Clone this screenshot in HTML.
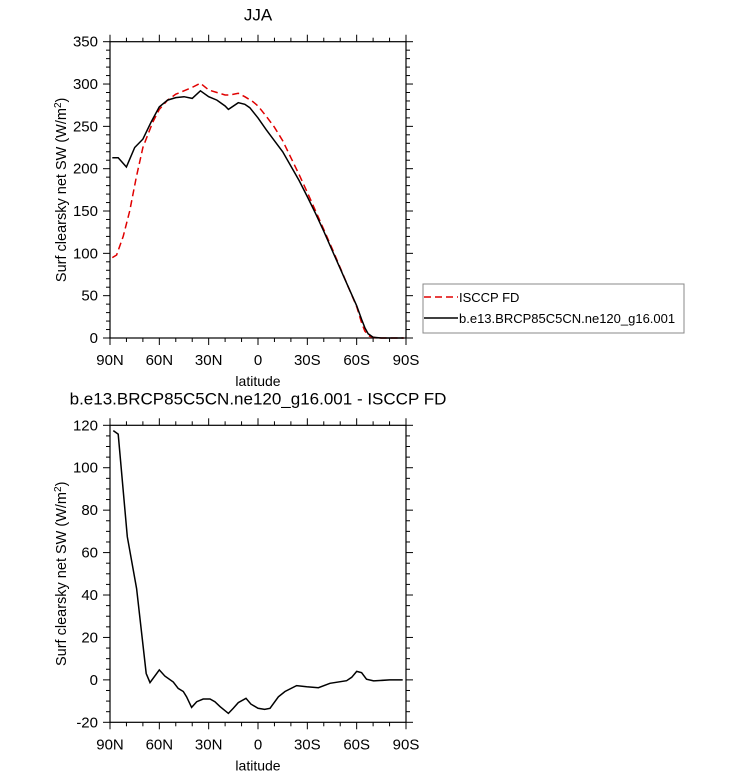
<!DOCTYPE html>
<html><head><meta charset="utf-8"><style>
body{margin:0;background:#fff;}
svg{display:block;font-family:"Liberation Sans",sans-serif;}
</style></head><body>
<svg id="chart" width="733" height="776" viewBox="0 0 733 776"></svg>
<script>
// Top panel data
const topBlackLat=[88.6,85,80,75,70,65,60,55,50,45,40,35,30,25,20,18,12,8,5,0,-5,-10,-15,-20,-25,-30,-35,-40,-45,-50,-55,-60,-63,-65,-67,-70,-75,-88.6];
const topBlackVal=[213,213,202,225,235,255,273,281,284,285,283,292,285,281,274,270,278,276,272,260,246,233,220,203,186,167,147,126,104,82,60,38,22,12,5,1,0,0];
const topRedLat=[88.6,86,82,78,74,70,67,64,60,55,50,45,40,35,30,25,20,17,12,8,3,0,-5,-10,-15,-20,-25,-30,-35,-40,-45,-50,-55,-60,-63,-65,-68,-72,-88.6];
const topRedVal=[95,98,120,150,190,225,240,255,270,281,288,292,296,301,293,290,287,287,289,285,279,274,262,249,233,213,193,172,150,128,106,83,60,37,18,8,2,0,0];
// Bottom panel data (difference)
const diffLat=[88,85,79.5,73.8,68,65.7,60,56.6,51.5,48.5,45.4,43.4,40.4,37.3,33.3,29.2,26.2,23.1,18,15,12,7.3,4.3,0,-4,-7.3,-12.4,-16.4,-23.5,-29.6,-36.7,-43.8,-53.9,-57,-60,-63,-66,-70.3,-80,-88];
const diffVal=[117.5,115.8,67.5,43,3,-1.3,4.7,1.8,-1,-4,-5.5,-8,-13,-10.3,-9,-9,-10.3,-12.6,-15.8,-13.4,-10.7,-8.7,-11.4,-13.4,-13.9,-13.4,-8,-5.5,-2.7,-3.2,-3.7,-1.6,-0.4,1.2,4,3.4,0.3,-0.5,0,0];
const xTickLat=[90,60,30,0,-30,-60,-90];
const xTickLabels=["90N","60N","30N","0","30S","60S","90S"];
const topYTicks=[0,50,100,150,200,250,300,350];
const botYTicks=[-20,0,20,40,60,80,100,120];

const svg=document.getElementById('chart');
const NS='http://www.w3.org/2000/svg';
function mk(tag,attrs,parent){const e=document.createElementNS(NS,tag);for(const k in attrs)e.setAttribute(k,attrs[k]);(parent||svg).appendChild(e);return e;}
const X0=110,X1=406;
function xs(lat){return X0+(90-lat)/180*(X1-X0);}

function panel(name,yTop,yBot,ymin,ymax,yTicks,yMinorStep,title){
  const g=mk('g',{});
  
  
  const ys=v=>yBot-(v-ymin)/(ymax-ymin)*(yBot-yTop);
  for(let lat=90;lat>=-90;lat-=10){const x=xs(lat);
    const maj=lat%30===0;const L=maj?7:4;
    mk('line',{x1:x,x2:x,y1:yBot,y2:yBot+L,stroke:'#000','stroke-width':1},g);
    mk('line',{x1:x,x2:x,y1:yTop,y2:yTop-L,stroke:'#000','stroke-width':1},g);}
  for(let v=ymin;v<=ymax+1e-9;v+=yMinorStep){const y=ys(v);
    const maj=yTicks.includes(Math.round(v));const L=maj?7:4;
    mk('line',{x1:X0,x2:X0-L,y1:y,y2:y,stroke:'#000','stroke-width':1},g);
    mk('line',{x1:X1,x2:X1+L,y1:y,y2:y,stroke:'#000','stroke-width':1},g);}
  mk('rect',{x:X0,y:yTop,width:X1-X0,height:yBot-yTop,fill:'none',stroke:'#000','stroke-width':1.2},g);
  xTickLat.forEach((lat,i)=>{const t=mk('text',{x:xs(lat),y:yBot+27,'text-anchor':'middle','font-size':15},g);t.textContent=xTickLabels[i];
    
    });
  yTicks.forEach(v=>{const t=mk('text',{x:X0-12,y:ys(v)+5,'text-anchor':'end','font-size':15},g);t.textContent=v;
    
    });
  const xl=mk('text',{x:258,y:yBot+48,'text-anchor':'middle','font-size':14},g);xl.textContent='latitude';
  
  
  const cy=(yTop+yBot)/2;
  const yl=mk('text',{x:0,y:0,'text-anchor':'middle','font-size':14.5,transform:`translate(66,${cy}) rotate(-90)`},g);
  yl.innerHTML='Surf clearsky net SW (W/m<tspan dy="-5" font-size="10">2</tspan><tspan dy="5">)</tspan>';
  
  
  const tt=mk('text',{x:title.x,y:yTop-21,'text-anchor':'middle','font-size':17},g);tt.textContent=title.text;
  
  
  return ys;
}
function line(lats,vals,ys,color,dash,name){
  const d=lats.map((l,i)=>(i?'L':'M')+xs(l).toFixed(1)+','+ys(vals[i]).toFixed(1)).join('');
  const p=mk('path',{d:d,fill:'none',stroke:color,'stroke-width':1.5,'stroke-dasharray':dash||'none'});
  
  
}
const ysT=panel('top-panel',41.7,338,0,350,topYTicks,10,{x:258,text:'JJA'});
line(topRedLat,topRedVal,ysT,'#e00000','7,4','isccp-fd-line');
line(topBlackLat,topBlackVal,ysT,'#000',null,'model-line');
const ysB=panel('bottom-panel',425.3,722.3,-20,120,botYTicks,5,{x:258,text:'b.e13.BRCP85C5CN.ne120_g16.001 - ISCCP FD'});
line(diffLat,diffVal,ysB,'#000',null,'difference-line');
const lg=mk('g',{});


mk('rect',{x:423,y:284,width:261,height:49,fill:'#fff',stroke:'#888','stroke-width':1},lg);
mk('line',{x1:424,x2:458,y1:297,y2:297,stroke:'#e00000','stroke-width':1.5,'stroke-dasharray':'7,4'},lg);
mk('line',{x1:424,x2:458,y1:318,y2:318,stroke:'#000','stroke-width':1.5},lg);
const t1=mk('text',{x:459,y:302,'font-size':13},lg);t1.textContent='ISCCP FD';


const t2=mk('text',{x:459,y:323,'font-size':13},lg);t2.textContent='b.e13.BRCP85C5CN.ne120_g16.001';


</script>
</body></html>
